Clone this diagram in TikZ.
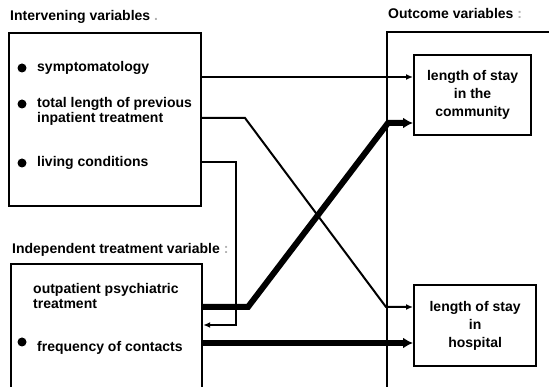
\documentclass[tikz,border=0pt]{standalone}
\usepackage{fontspec}
\setmainfont{Liberation Sans}
\usetikzlibrary{arrows.meta,positioning}
\tikzset{panel/.style={rectangle,draw=black,line width=2.2pt,inner sep=0pt,anchor=north west}}
\tikzset{outcome/.style={rectangle,draw=black,line width=2.2pt,inner sep=0pt,anchor=north west,align=center,font=\bfseries\fontsize{14}{18}\selectfont}}
\tikzset{heading/.style={anchor=west,inner sep=0pt,font=\bfseries\fontsize{14}{16}\selectfont}}
\tikzset{item/.style={anchor=west,inner sep=0pt,align=left,font=\bfseries\fontsize{14}{15}\selectfont}}
\tikzset{dot/.style={circle,fill=black,inner sep=0pt,minimum size=9pt}}
\tikzset{thinArrow/.style={-{Latex[length=7pt,width=6pt]},line width=2pt}}
\tikzset{thickArrow/.style={-{Latex[length=10pt,width=11pt]},line width=6pt}}

\begin{document}
\begin{tikzpicture}[x=1pt,y=-1pt]
\useasboundingbox (0,0) rectangle (549,387);
\clip (0,0) rectangle (549,387);
% headings
\node[heading] (hint) at (10,17) {Intervening variables \textcolor{black!30}{.}};
\node[heading] (hind) at (12,250) {Independent treatment variable \textcolor{black!30}{:}};
\node[heading] (hout) at (388,14) {Outcome variables \textcolor{black!30}{:}};
% boxes
\node[panel, minimum width=192pt, minimum height=173pt] (interv) at (8,32) {};
\node[panel, minimum width=191pt, minimum height=150pt] (indep) at (10,263) {};
\node[panel, minimum width=200pt, minimum height=400pt] (outc) at (386,31) {};
\node[outcome, minimum width=117pt, minimum height=80pt] (comm) at (413,54) {length of stay\\in the\\community};
\node[outcome, minimum width=122pt, minimum height=81pt] (hosp) at (413,284) {length of stay\\in\\hospital};
% items
\node[dot] (b1) at (22,68) {};
\node[item] (symp) at (37,68) {symptomatology};
\node[dot] (b2) at (22,104) {};
\node[item] (prev) at (37,111) {total length of previous\\inpatient treatment};
\node[dot] (b3) at (22,163) {};
\node[item] (live) at (37,163) {living conditions};
\node[item] (outp) at (33,296) {outpatient psychiatric\\treatment};
\node[dot] (b4) at (22,342) {};
\node[item] (freq) at (37,348) {frequency of contacts};
% connectors
\draw[thinArrow] (interv.east |- 0,77) -- (comm.west |- 0,77);
\draw[thinArrow] (interv.east |- 0,118) -- (245,118) -- (386,307) -- (hosp.west |- 0,307);
\draw[thinArrow] (interv.east |- 0,162) -- (236,162) -- (236,325) -- (indep.east |- 0,325);
\draw[thickArrow] (indep.east |- 0,307) -- (248,307) -- (388,123) -- (comm.west |- 0,123);
\draw[thickArrow] (indep.east |- 0,343) -- (hosp.west |- 0,343);
\end{tikzpicture}
\end{document}
